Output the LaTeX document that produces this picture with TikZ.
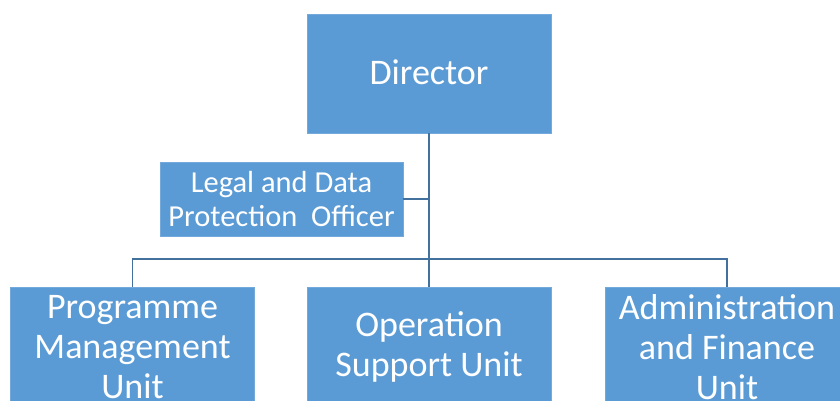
\documentclass[tikz,border=0pt]{standalone}
\usepackage{fontspec}
\setmainfont{Carlito}
\definecolor{boxblue}{HTML}{5B9BD5}
\definecolor{linecol}{HTML}{41719C}
\begin{document}
\begin{tikzpicture}[x=1pt,y=-1pt,
  unitbox/.style={fill=boxblue, draw=boxblue!85!white, line width=0.6pt, text=white, align=center, inner sep=0pt, minimum width=244pt, minimum height=119pt},
  bigtext/.style={font=\fontsize{36}{40}\selectfont},
  smalltext/.style={font=\fontsize{30.5}{33.5}\selectfont},
  conn/.style={draw=linecol, line width=1.6pt}]
\useasboundingbox (0,0) rectangle (840,400);
\clip (0,0) rectangle (840,400);
\node[unitbox, bigtext] (dir) at (429,73.5) {\raisebox{3pt}{Director}};
\node[unitbox, smalltext, minimum width=243pt, minimum height=74pt] (legal) at (281.5,199) {Legal and Data\\Protection\hspace{0.45em}Officer};
\node[unitbox, bigtext, anchor=north] (pmu) at (132.5,287) {Programme\\Management\\Unit};
\node[unitbox, bigtext, anchor=north] (osu) at (429,287) {Operation\\Support Unit};
\node[unitbox, bigtext, anchor=north] (afu) at (727,287) {Administration\\and Finance\\Unit};
\coordinate (bus) at (429,259);
\draw[conn] (dir.south) -- (osu.north);
\draw[conn] (legal.east) -- (legal.east -| dir.south);
\draw[conn] (pmu.north) |- (bus) -| (afu.north);
\end{tikzpicture}
\end{document}
